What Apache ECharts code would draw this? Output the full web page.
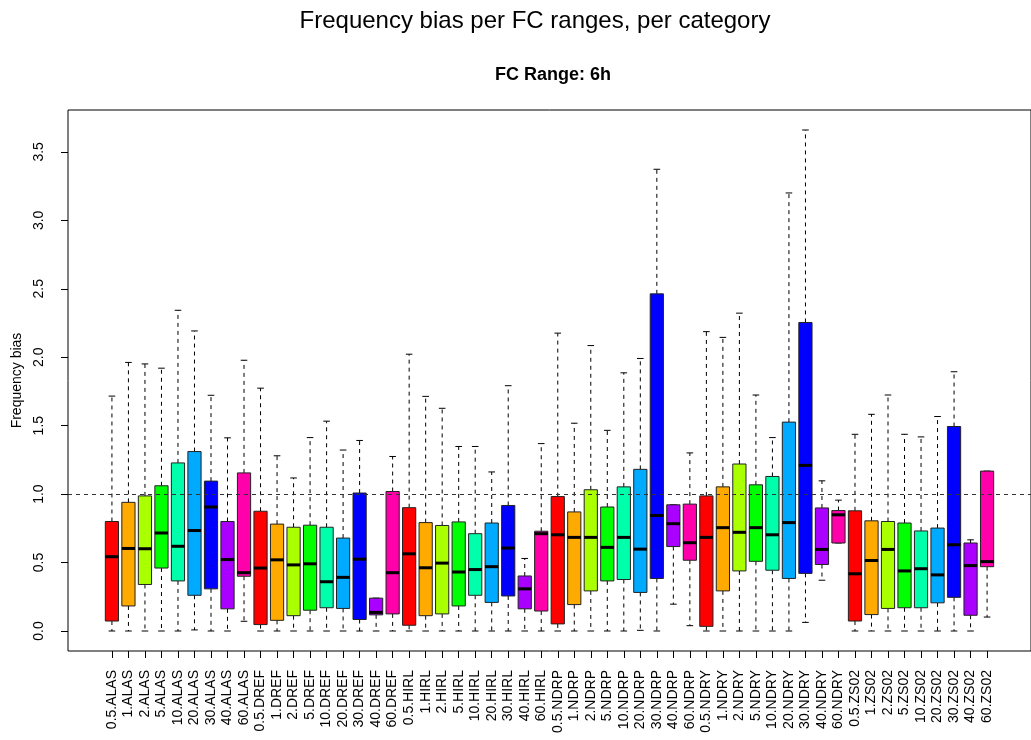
<!DOCTYPE html>
<html>
<head>
<meta charset="utf-8">
<title>Frequency bias per FC ranges, per category</title>
<script src="https://cdn.jsdelivr.net/npm/echarts@6/dist/echarts.min.js"></script>
<style>
  html, body { margin: 0; padding: 0; background: #fff; }
  #chart { width: 1031px; height: 740px; }
</style>
</head>
<body>
<div id="chart"></div>
<script>
// Forecast ranges and models: one box per (range, model) pair, grouped by model
const fcRanges = ['0.5', '1', '2', '5', '10', '20', '30', '40', '60'];
const models = ['ALAS', 'DREF', 'HIRL', 'NDRP', 'NDRY', 'ZS02'];
const categories = models.flatMap(m => fcRanges.map(r => r + '.' + m));

// Box statistics, in category order
const lowerWhisker = [
  0, 0, 0, 0, 0, 0.008, 0, 0, 0.071,
  0, 0, 0, 0, 0, 0, 0, 0, 0,
  0, 0, 0, 0, 0, 0, 0, 0, 0,
  0, 0, 0, 0, 0, 0.005, 0, 0.196, 0.039,
  0, 0, 0, 0, 0, 0, 0.063, 0.371, 0.643,
  0, 0, 0, 0, 0, 0, 0, 0, 0.102
];
const q1 = [
  0.073, 0.183, 0.340, 0.460, 0.366, 0.261, 0.308, 0.162, 0.400,
  0.047, 0.078, 0.112, 0.152, 0.170, 0.165, 0.084, 0.118, 0.125,
  0.042, 0.112, 0.125, 0.183, 0.261, 0.209, 0.256, 0.162, 0.146,
  0.052, 0.193, 0.293, 0.366, 0.376, 0.282, 0.384, 0.617, 0.517,
  0.034, 0.293, 0.439, 0.509, 0.444, 0.384, 0.421, 0.486, 0.643,
  0.073, 0.120, 0.165, 0.170, 0.170, 0.206, 0.246, 0.115, 0.470
];
const median = [
  0.543, 0.603, 0.601, 0.716, 0.619, 0.734, 0.906, 0.522, 0.426,
  0.460, 0.520, 0.483, 0.491, 0.360, 0.392, 0.525, 0.136, 0.426,
  0.564, 0.462, 0.496, 0.431, 0.449, 0.470, 0.606, 0.308, 0.711,
  0.703, 0.684, 0.684, 0.611, 0.684, 0.598, 0.844, 0.784, 0.645,
  0.684, 0.755, 0.721, 0.755, 0.703, 0.792, 1.210, 0.596, 0.849,
  0.418, 0.515, 0.596, 0.439, 0.455, 0.410, 0.630, 0.478, 0.507
];
const q3 = [
  0.800, 0.940, 0.987, 1.061, 1.228, 1.311, 1.095, 0.800, 1.155,
  0.875, 0.781, 0.758, 0.773, 0.758, 0.679, 1.008, 0.240, 1.019,
  0.901, 0.792, 0.771, 0.797, 0.711, 0.789, 0.917, 0.402, 0.729,
  0.982, 0.870, 1.032, 0.906, 1.053, 1.181, 2.463, 0.922, 0.927,
  0.987, 1.053, 1.220, 1.068, 1.129, 1.526, 2.254, 0.899, 0.880,
  0.878, 0.805, 0.800, 0.789, 0.731, 0.752, 1.494, 0.643, 1.168
];
const upperWhisker = [
  1.716, 1.962, 1.951, 1.920, 2.343, 2.192, 1.722, 1.411, 1.978,
  1.774, 1.280, 1.118, 1.413, 1.533, 1.322, 1.392, 0.240, 1.275,
  2.022, 1.714, 1.627, 1.348, 1.348, 1.162, 1.792, 0.530, 1.369,
  2.176, 1.518, 2.085, 1.466, 1.886, 1.991, 3.373, 0.922, 1.301,
  2.187, 2.145, 2.322, 1.724, 1.413, 3.200, 3.660, 1.097, 0.956,
  1.437, 1.583, 1.724, 1.437, 1.418, 1.567, 1.894, 0.666, 1.168
];

// Y axis tick values
const yTicks = [0, 0.5, 1, 1.5, 2, 2.5, 3, 3.5];
// Reference level
const refLevel = 1;

// One colour per forecast range, repeated for every model
const rangeColors = ['#FF0000', '#FFAA00', '#AAFF00', '#00FF00', '#00FFAA',
                     '#00AAFF', '#0000FF', '#AA00FF', '#FF00AA'];

const positions = categories.map((_, i) => i + 1);
const boxData = categories.map((_, i) => [
  i + 1, lowerWhisker[i], q1[i], median[i], q3[i], upperWhisker[i]
]);

const FONT = '"Liberation Sans", Arial, Helvetica, sans-serif';

function renderBox(params, api) {
  const x = api.value(0);
  const lo = api.coord([x, api.value(1)]);
  const b1 = api.coord([x, api.value(2)]);
  const md = api.coord([x, api.value(3)]);
  const b3 = api.coord([x, api.value(4)]);
  const hi = api.coord([x, api.value(5)]);
  const bw = api.size([0.8, 0])[0];
  const sw = api.size([0.4, 0])[0];
  const cx = lo[0];
  const dashed = { stroke: '#000', lineWidth: 1, lineDash: [4, 4] };
  const solid = { stroke: '#000', lineWidth: 1 };
  return {
    type: 'group',
    children: [
      { type: 'line', shape: { x1: cx, y1: b3[1], x2: cx, y2: hi[1] }, style: dashed },
      { type: 'line', shape: { x1: cx, y1: b1[1], x2: cx, y2: lo[1] }, style: dashed },
      { type: 'line', shape: { x1: cx - sw / 2, y1: hi[1], x2: cx + sw / 2, y2: hi[1] }, style: solid },
      { type: 'line', shape: { x1: cx - sw / 2, y1: lo[1], x2: cx + sw / 2, y2: lo[1] }, style: solid },
      {
        type: 'rect',
        shape: { x: cx - bw / 2, y: b3[1], width: bw, height: b1[1] - b3[1] },
        style: { fill: rangeColors[params.dataIndex % rangeColors.length], stroke: '#222', lineWidth: 1 }
      },
      { type: 'line', shape: { x1: cx - bw / 2, y1: md[1], x2: cx + bw / 2, y2: md[1] },
        style: { stroke: '#000', lineWidth: 3 } }
    ]
  };
}

const chart = echarts.init(document.getElementById('chart'), null, { renderer: 'canvas' });
chart.setOption({
  animation: false,
  backgroundColor: '#fff',
  textStyle: { fontFamily: FONT },
  title: [
    {
      text: 'Frequency bias per FC ranges, per category',
      left: 530, top: 4, textAlign: 'center',
      textStyle: { fontSize: 24, fontWeight: 'normal', color: '#000', fontFamily: FONT }
    },
    {
      text: 'FC Range: 6h',
      left: 548, top: 61, textAlign: 'center',
      textStyle: { fontSize: 18, fontWeight: 'bold', color: '#000', fontFamily: FONT }
    }
  ],
  grid: {
    left: 68, top: 110, right: -9, bottom: 89,
    show: true, borderColor: '#000', borderWidth: 1, backgroundColor: 'transparent'
  },
  xAxis: {
    type: 'value',
    min: -1.66, max: 56.66,
    splitLine: { show: false },
    axisLine: { show: false, onZero: false },
    axisTick: { show: true, length: 7, customValues: positions, lineStyle: { color: '#000' } },
    axisLabel: {
      rotate: 90, margin: 19, fontSize: 14, color: '#000', fontFamily: FONT,
      customValues: positions,
      formatter: v => categories[Math.round(v) - 1]
    }
  },
  yAxis: {
    type: 'value',
    min: -0.146, max: 3.806,
    name: 'Frequency bias',
    nameLocation: 'middle', nameGap: 44, nameRotate: 90,
    nameTextStyle: { fontSize: 14, color: '#000', fontFamily: FONT },
    splitLine: { show: false },
    axisLine: { show: false, onZero: false },
    axisTick: { show: true, length: 7, customValues: yTicks, lineStyle: { color: '#000' } },
    axisLabel: {
      rotate: 90, margin: 22, fontSize: 14, color: '#000', fontFamily: FONT,
      customValues: yTicks,
      formatter: v => v.toFixed(1)
    }
  },
  series: [
    {
      type: 'line',
      data: [],
      z: 1,
      markLine: {
        silent: true, symbol: 'none',
        label: { show: false },
        lineStyle: { type: [4, 4], color: '#333', width: 1 },
        data: [{ yAxis: refLevel }]
      }
    },
    {
      type: 'custom',
      z: 3,
      renderItem: renderBox,
      encode: { x: 0, y: [1, 2, 3, 4, 5] },
      data: boxData
    }
  ]
});
</script>
</body>
</html>
